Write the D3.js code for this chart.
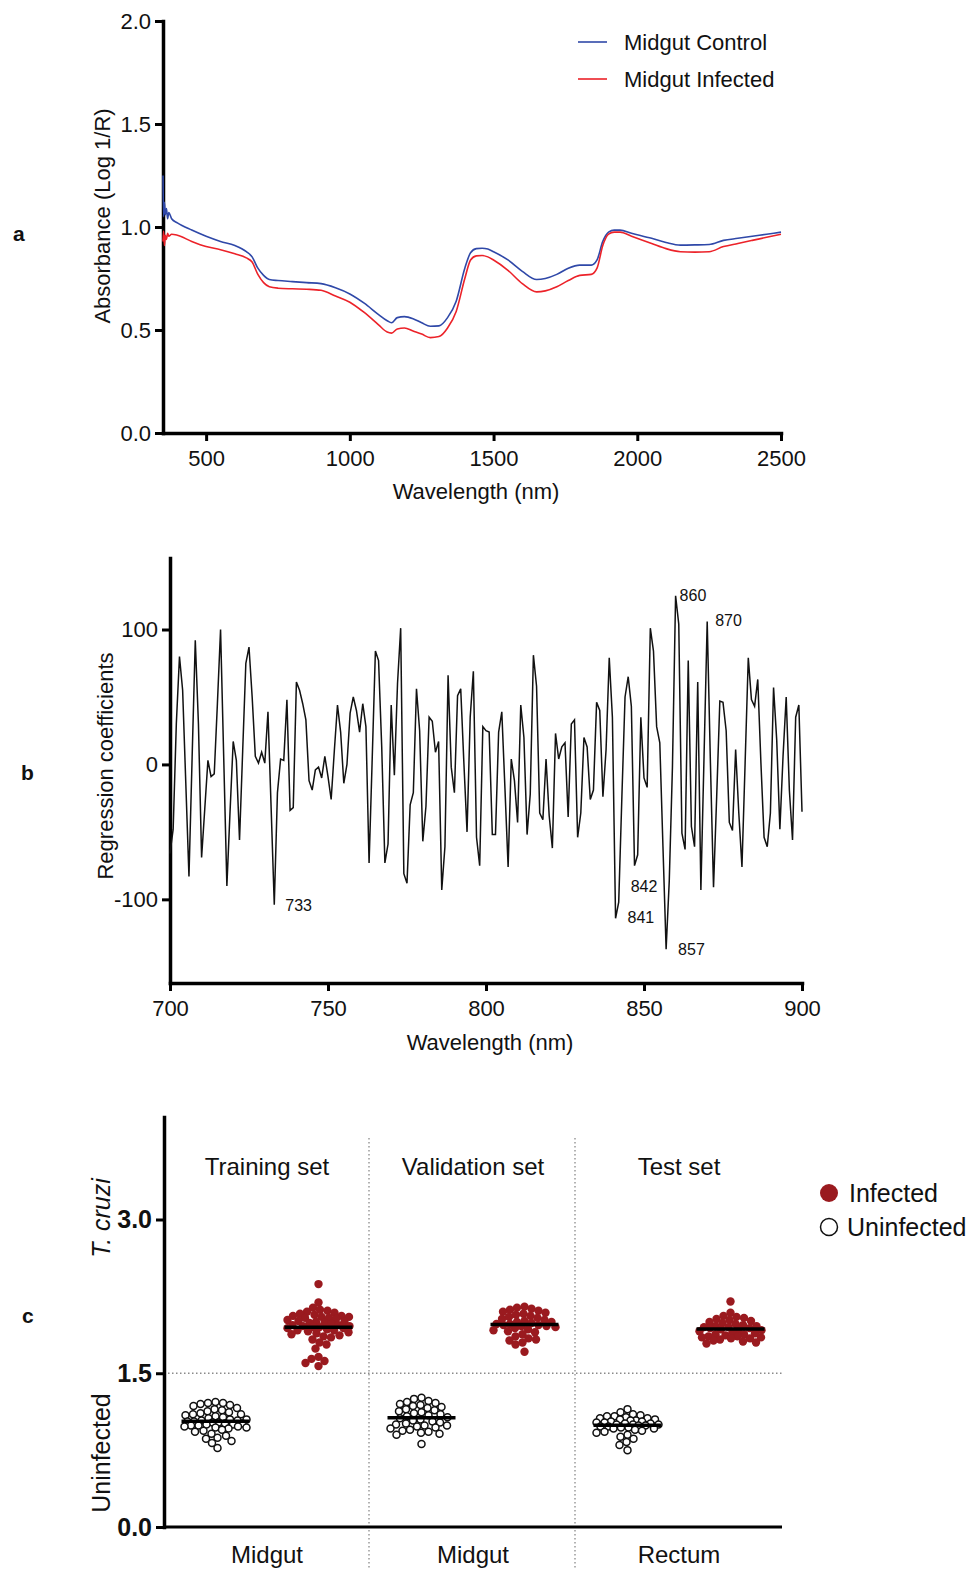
<!DOCTYPE html>
<html>
<head>
<meta charset="utf-8">
<script src="https://cdn.jsdelivr.net/npm/d3@7"></script>
<style>
  body { margin: 0; background: #fff; }
  svg { font-family: "Liberation Sans", Arial, sans-serif; }
</style>
</head>
<body>
<div id="chart"></div>
<script>
// ---------- panel a: mean spectra ----------
const specWl = [350, 352, 355, 358, 362, 366, 370, 380, 400, 450, 500, 550, 600, 640, 660, 680, 700, 720, 750,
  800, 850, 900, 950, 1000, 1050, 1100, 1130, 1145, 1165, 1190, 1220, 1250, 1280, 1310, 1340, 1370, 1400, 1420,
  1440, 1460, 1480, 1500, 1550, 1600, 1650, 1680, 1720, 1760, 1800, 1840, 1860, 1880, 1900, 1920, 1940, 1980,
  2050, 2100, 2150, 2200, 2250, 2300, 2350, 2400, 2450, 2500];
const controlAbs = [1.25, 1.05, 1.12, 1.06, 1.09, 1.04, 1.07, 1.04, 1.02, 0.985, 0.955, 0.93, 0.91, 0.88, 0.855,
  0.80, 0.765, 0.745, 0.74, 0.735, 0.73, 0.725, 0.705, 0.675, 0.63, 0.575, 0.545, 0.535, 0.56, 0.565, 0.555,
  0.535, 0.518, 0.52, 0.56, 0.64, 0.80, 0.875, 0.895, 0.897, 0.893, 0.88, 0.84, 0.785, 0.745, 0.75, 0.77, 0.80,
  0.815, 0.815, 0.84, 0.93, 0.975, 0.985, 0.985, 0.97, 0.945, 0.925, 0.912, 0.913, 0.915, 0.935, 0.945, 0.955,
  0.965, 0.975];
const infectedAbs = [0.93, 0.98, 0.91, 0.96, 0.94, 0.97, 0.955, 0.965, 0.96, 0.93, 0.905, 0.89, 0.87, 0.85, 0.83,
  0.77, 0.73, 0.71, 0.703, 0.70, 0.698, 0.693, 0.665, 0.635, 0.585, 0.525, 0.49, 0.485, 0.505, 0.51, 0.495,
  0.48, 0.463, 0.468, 0.51, 0.59, 0.75, 0.84, 0.86, 0.862, 0.855, 0.84, 0.79, 0.725, 0.685, 0.69, 0.71, 0.74,
  0.765, 0.77, 0.80, 0.91, 0.965, 0.975, 0.975, 0.955, 0.92, 0.895, 0.88, 0.878, 0.88, 0.905, 0.92, 0.935,
  0.95, 0.965];
const specSeries = ["Midgut Control", "Midgut Infected"];

// ---------- panel b: PLS regression coefficients, 700-900 nm every 1 nm ----------
const coefStartWl = 700;
const coefValues = [
  -66, -48, 30, 80, 55, -14, -83, 5, 92, 30, -69, -33, 3, -9, -7, 45, 100, 5, -90, -35,
  17, 3, -56, 10, 75, 87, 50, 6, 1, 9, 1, 39, -32, -104, -21, 4, 3, 48, -34, -32,
  61, 55, 45, 33, -12, -19, -4, -2, -10, 6, -9, -26, 10, 44, 24, -14, 0, 38, 50, 40,
  24, 45, 28, -73, 5, 84, 77, 13, -73, -59, 44, -8, 60, 101, -81, -88, -30, -21, 56, 25,
  -57, -31, 35, 32, 9, 17, -93, -61, 66, -2, -21, 51, 56, 1, -50, 35, 69, -54, -75, 28,
  25, 24, -52, -52, 24, 39, -18, -76, 4, -12, -43, 44, 20, -52, -22, 81, 58, -36, -41, 4,
  -38, -62, 23, 4, 13, 16, -39, 30, 33, -54, -36, 20, 13, -26, -19, 46, 40, -24, 11, 79,
  35, -114, -102, -24, 50, 65, 43, -75, -67, 35, -10, -17, 101, 84, 28, 16, -61, -137, -86, -2,
  125, 104, -51, -63, 77, -46, -61, 61, -93, 6, 106, 3, -91, -24, 47, 46, 25, -43, -49, 11,
  -36, -76, 1, 79, 48, 43, 63, 1, -54, -61, -36, 57, 18, -48, 6, 50, -19, -56, 35, 44,
  -35];
const peakLabels = [733, 841, 842, 857, 860, 870];

// ---------- panel c: PLS-DA predicted values ----------
const groupNames = ["Training set", "Validation set", "Test set"];
const tissueNames = ["Midgut", "Midgut", "Rectum"];
const trainUninfected = [1.22, 1.21, 1.21, 1.20, 1.19, 1.18, 1.16, 1.15, 1.14, 1.13, 1.12, 1.11, 1.10, 1.10, 1.09,
  1.08, 1.07, 1.06, 1.05, 1.05, 1.04, 1.04, 1.03, 1.03, 1.02, 1.02, 1.01, 1.01, 1.00, 1.00, 0.99, 0.99, 0.98,
  0.98, 0.97, 0.97, 0.96, 0.95, 0.94, 0.93, 0.91, 0.89, 0.87, 0.86, 0.84, 0.82, 0.77];
const trainInfected = [2.37, 2.19, 2.14, 2.12, 2.11, 2.10, 2.09, 2.08, 2.07, 2.06, 2.06, 2.05, 2.05, 2.04, 2.04,
  2.03, 2.02, 2.01, 2.00, 2.00, 1.99, 1.99, 1.98, 1.97, 1.97, 1.96, 1.96, 1.95, 1.95, 1.94, 1.94, 1.93, 1.92,
  1.92, 1.91, 1.90, 1.89, 1.88, 1.87, 1.86, 1.85, 1.83, 1.80, 1.78, 1.74, 1.66, 1.64, 1.62, 1.60, 1.57];
const valUninfected = [1.26, 1.25, 1.23, 1.22, 1.21, 1.20, 1.19, 1.18, 1.17, 1.16, 1.15, 1.14, 1.13, 1.12, 1.11,
  1.10, 1.09, 1.08, 1.07, 1.06, 1.05, 1.04, 1.03, 1.02, 1.01, 1.00, 0.99, 0.99, 0.98, 0.97, 0.96, 0.95, 0.94,
  0.93, 0.92, 0.91, 0.90, 0.81];
const valInfected = [2.15, 2.14, 2.13, 2.12, 2.11, 2.10, 2.09, 2.08, 2.07, 2.06, 2.05, 2.04, 2.03, 2.02, 2.01,
  2.00, 2.00, 1.99, 1.98, 1.98, 1.97, 1.97, 1.96, 1.96, 1.95, 1.94, 1.93, 1.92, 1.91, 1.90, 1.88, 1.86, 1.84,
  1.83, 1.82, 1.80, 1.78, 1.71];
const testUninfected = [1.15, 1.12, 1.10, 1.09, 1.08, 1.08, 1.07, 1.06, 1.06, 1.05, 1.05, 1.04, 1.04, 1.03, 1.03,
  1.02, 1.02, 1.01, 1.01, 1.00, 1.00, 1.00, 0.99, 0.99, 0.98, 0.98, 0.97, 0.97, 0.96, 0.96, 0.95, 0.94, 0.93,
  0.92, 0.90, 0.88, 0.86, 0.83, 0.80, 0.75];
const testInfected = [2.20, 2.09, 2.06, 2.05, 2.04, 2.03, 2.02, 2.01, 2.00, 1.99, 1.98, 1.97, 1.96, 1.96, 1.95,
  1.95, 1.94, 1.94, 1.93, 1.93, 1.92, 1.91, 1.90, 1.89, 1.88, 1.88, 1.87, 1.86, 1.86, 1.85, 1.85, 1.84, 1.84,
  1.83, 1.82, 1.81, 1.80, 1.79];
const classNames = ["Infected", "Uninfected"];
const threshold = 1.5;

const blue = "#2f48a8", red = "#ec2229", darkRed = "#9a1a1f";

const svg = d3.select("#chart").append("svg")
  .attr("width", 973)
  .attr("height", 1570);

// common axis look
function styleAxis(g, size, weight) {
  g.attr("font-family", null).attr("font-size", null);
  g.select(".domain").attr("stroke", "#000").attr("stroke-width", 3.5).attr("stroke-linecap", "square");
  g.selectAll(".tick line").attr("stroke", "#000").attr("stroke-width", 3);
  g.selectAll(".tick text").attr("fill", "#111").attr("font-size", size).attr("font-weight", weight || "normal");
}

function panelLabel(txt, x, y) {
  svg.append("text").attr("x", x).attr("y", y)
    .attr("font-size", 21).attr("font-weight", "bold").attr("fill", "#111").text(txt);
}

/* ---------------- panel a ---------------- */
const xa = d3.scaleLinear().domain([350, 2500]).range([163, 781]);
const ya = d3.scaleLinear().domain([0, 2]).range([433, 21]);

const gaX = svg.append("g").attr("transform", "translate(0,433)")
  .call(d3.axisBottom(xa).tickValues([500, 1000, 1500, 2000, 2500]).tickFormat(d => String(d))
    .tickSize(8).tickSizeOuter(0).tickPadding(9));
styleAxis(gaX, 22);
const gaY = svg.append("g").attr("transform", "translate(163,0)")
  .call(d3.axisLeft(ya).tickValues([0, 0.5, 1, 1.5, 2]).tickFormat(d3.format(".1f")).tickSize(8).tickSizeOuter(0).tickPadding(4));
styleAxis(gaY, 22);

const lineA = d3.line().curve(d3.curveMonotoneX)
  .x((d, i) => xa(specWl[i]))
  .y(d => ya(d));

svg.append("path").datum(controlAbs).attr("d", lineA)
  .attr("fill", "none").attr("stroke", blue).attr("stroke-width", 1.6);
svg.append("path").datum(infectedAbs).attr("d", lineA)
  .attr("fill", "none").attr("stroke", red).attr("stroke-width", 1.6);

// legend
specSeries.forEach((s, i) => {
  const ly = 42 + i * 37;
  svg.append("line").attr("x1", 578).attr("x2", 607).attr("y1", ly).attr("y2", ly)
    .attr("stroke", i === 0 ? blue : red).attr("stroke-width", 1.6);
  svg.append("text").attr("x", 624).attr("y", ly + 8)
    .attr("font-size", 22).attr("fill", "#111").text(s);
});

svg.append("text").attr("x", 476).attr("y", 499).attr("text-anchor", "middle")
  .attr("font-size", 22).attr("fill", "#111").text("Wavelength (nm)");
svg.append("text").attr("transform", "translate(110,216) rotate(-90)").attr("text-anchor", "middle")
  .attr("font-size", 22).attr("fill", "#111").text("Absorbance (Log 1/R)");
panelLabel("a", 13, 241);

/* ---------------- panel b ---------------- */
const xb = d3.scaleLinear().domain([700, 900]).range([170, 802]);
const yb = d3.scaleLinear().domain([-162, 153]).range([983, 558]);

const gbX = svg.append("g").attr("transform", "translate(0,983)")
  .call(d3.axisBottom(xb).tickValues([700, 750, 800, 850, 900]).tickSize(8).tickSizeOuter(0).tickPadding(9));
styleAxis(gbX, 22);
const gbY = svg.append("g").attr("transform", "translate(170,0)")
  .call(d3.axisLeft(yb).tickValues([-100, 0, 100]).tickFormat(d => String(d)).tickSize(8).tickSizeOuter(0).tickPadding(4));
styleAxis(gbY, 22);

const lineB = d3.line()
  .x((d, i) => xb(coefStartWl + i))
  .y(d => yb(d));
svg.append("path").datum(coefValues).attr("d", lineB)
  .attr("fill", "none").attr("stroke", "#111").attr("stroke-width", 1.5).attr("stroke-linejoin", "miter");

// labelled extreme wavelengths
const labelOffset = {733: [11, 6], 841: [12, 5], 842: [12, -10], 857: [12, 6], 860: [4, 5], 870: [8, 5]};
peakLabels.forEach(w => {
  const v = coefValues[w - coefStartWl];
  const o = labelOffset[w];
  svg.append("text").attr("x", xb(w) + o[0]).attr("y", yb(v) + o[1])
    .attr("font-size", 16).attr("fill", "#111").text(w);
});

svg.append("text").attr("x", 490).attr("y", 1050).attr("text-anchor", "middle")
  .attr("font-size", 22).attr("fill", "#111").text("Wavelength (nm)");
svg.append("text").attr("transform", "translate(113,766) rotate(-90)").attr("text-anchor", "middle")
  .attr("font-size", 22).attr("fill", "#111").text("Regression coefficients");
panelLabel("b", 21, 780);

/* ---------------- panel c ---------------- */
const sets = [
  {set: 0, cls: "Uninfected", values: trainUninfected},
  {set: 0, cls: "Infected", values: trainInfected},
  {set: 1, cls: "Uninfected", values: valUninfected},
  {set: 1, cls: "Infected", values: valInfected},
  {set: 2, cls: "Uninfected", values: testUninfected},
  {set: 2, cls: "Infected", values: testInfected}
];
const xc = d3.scaleBand().domain(d3.range(sets.length)).range([164, 782]);
const yc = d3.scaleLinear().domain([0, 4]).range([1527, 1117]);

// dotted guides
const groupEdge = i => xc(i * 2);
svg.append("line").attr("x1", 164).attr("x2", 782).attr("y1", yc(threshold)).attr("y2", yc(threshold))
  .attr("stroke", "#8a8a8a").attr("stroke-width", 1.3).attr("stroke-dasharray", "1.5,2.5");
[1, 2].forEach(i => {
  svg.append("line").attr("x1", groupEdge(i) - 1).attr("x2", groupEdge(i) - 1).attr("y1", 1138).attr("y2", 1570)
    .attr("stroke", "#8a8a8a").attr("stroke-width", 1.3).attr("stroke-dasharray", "1.5,2.5");
});

const gcY = svg.append("g").attr("transform", "translate(164,0)")
  .call(d3.axisLeft(yc).tickValues([0, 1.5, 3]).tickFormat(d3.format(".1f")).tickSize(8).tickSizeOuter(0).tickPadding(4));
styleAxis(gcY, 25, "bold");
svg.append("line").attr("x1", 164).attr("x2", 782).attr("y1", 1527).attr("y2", 1527)
  .attr("stroke", "#000").attr("stroke-width", 3);

// compact beeswarm: dots kept inside the mean-line width, allowed to touch a little
function swarm(values, cx, minDist, halfWidth) {
  const placed = [];
  const offs = d3.range(-halfWidth, halfWidth + 0.01, 0.5).sort((a, b) => Math.abs(a) - Math.abs(b));
  const pts = values.map(v => ({v: v, y: yc(v)})).sort((a, b) => d3.ascending(a.y, b.y));
  pts.forEach(p => {
    let bestOff = 0, bestD = -1;
    for (const off of offs) {
      const d = placed.length ? d3.min(placed, q => Math.hypot(q.x - (cx + off), q.y - p.y)) : Infinity;
      if (d >= minDist) { bestOff = off; bestD = d; break; }
      if (d > bestD) { bestD = d; bestOff = off; }
    }
    p.x = cx + bestOff;
    placed.push(p);
  });
  return placed;
}

sets.forEach((s, i) => {
  const cx = xc(i) + xc.bandwidth() / 2;
  const infected = s.cls === "Infected";
  const pts = swarm(s.values, cx, 7.2, 31);
  svg.append("g").selectAll("circle").data(pts).join("circle")
    .attr("cx", d => d.x).attr("cy", d => d.y)
    .attr("r", infected ? 4.2 : 3.5)
    .attr("fill", infected ? darkRed : "#fff")
    .attr("stroke", infected ? "none" : "#111")
    .attr("stroke-width", 1.5);
  const m = d3.mean(s.values);
  svg.append("line").attr("x1", cx - 34).attr("x2", cx + 34).attr("y1", yc(m)).attr("y2", yc(m))
    .attr("stroke", "#000").attr("stroke-width", 3.5);
});

groupNames.forEach((g, i) => {
  const cx = xc(i * 2) + xc.bandwidth();
  svg.append("text").attr("x", cx).attr("y", 1175).attr("text-anchor", "middle")
    .attr("font-size", 24).attr("fill", "#111").text(g);
  svg.append("text").attr("x", cx).attr("y", 1563).attr("text-anchor", "middle")
    .attr("font-size", 24).attr("fill", "#111").text(tissueNames[i]);
});

svg.append("text").attr("transform", "translate(110,1218) rotate(-90)").attr("text-anchor", "middle")
  .attr("font-size", 25).attr("font-style", "italic").attr("fill", "#111").text("T. cruzi");
svg.append("text").attr("transform", "translate(110,1453) rotate(-90)").attr("text-anchor", "middle")
  .attr("font-size", 25).attr("fill", "#111").text("Uninfected");

// legend
classNames.forEach((c, i) => {
  const ly = 1193 + i * 34;
  svg.append("circle").attr("cx", 829).attr("cy", ly).attr("r", i === 0 ? 9 : 8.5)
    .attr("fill", i === 0 ? darkRed : "#fff")
    .attr("stroke", i === 0 ? "none" : "#111").attr("stroke-width", 1.5);
  svg.append("text").attr("x", i === 0 ? 849 : 847).attr("y", ly + 9)
    .attr("font-size", 25).attr("fill", "#111").text(c);
});
panelLabel("c", 22, 1323);
</script>
</body>
</html>
